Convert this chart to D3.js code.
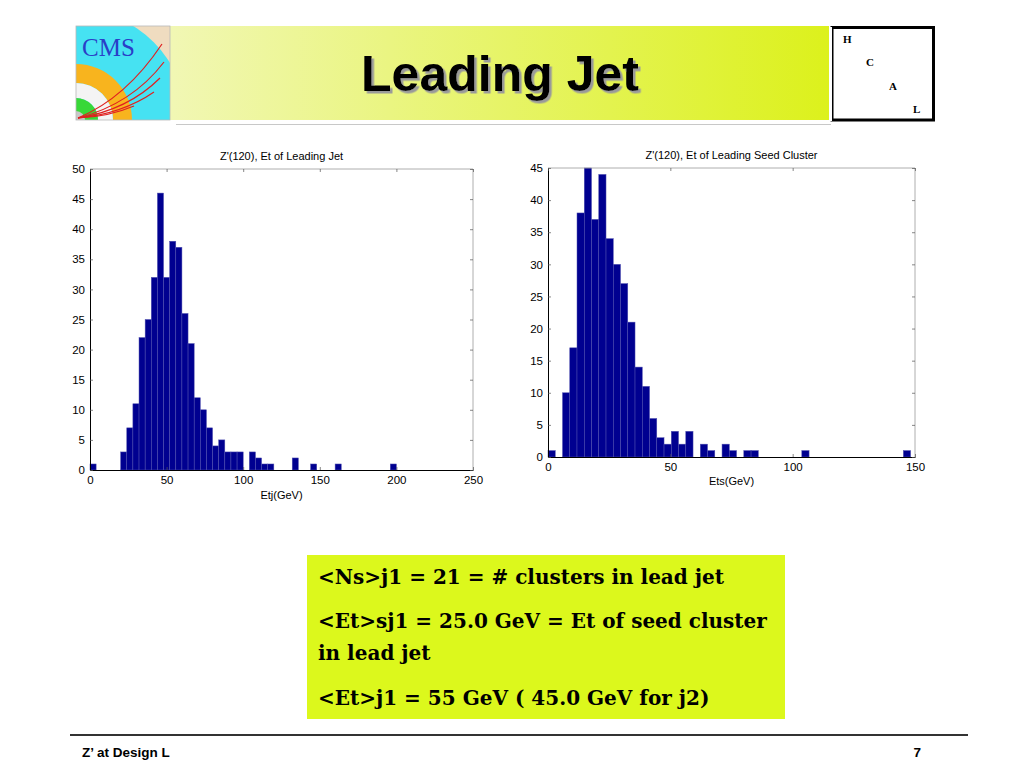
<!DOCTYPE html>
<html>
<head>
<meta charset="utf-8">
<script src="https://cdn.jsdelivr.net/npm/d3@7"></script>
<style>
  body { margin: 0; background: #fff; }
  text { font-family: "Liberation Sans", Arial, sans-serif; }
</style>
</head>
<body>
<svg id="slide" width="1024" height="768"></svg>
<script>
// histogram contents, 50 bins each
const jetRange = [0, 200];
const jetCounts = [1,0,0,0,0,3,7,11,22,25,32,46,32,38,37,26,21,12,10,7,
                   4,5,3,3,3,0,3,2,1,1,0,0,0,2,0,0,1,0,0,0,
                   1,0,0,0,0,0,0,0,0,1];
const seedRange = [0, 148.2];
const seedCounts = [1,0,10,17,38,45,37,44,34,30,27,21,14,11,6,3,2,4,2,4,
                    0,2,1,0,2,1,0,1,1,0,0,0,0,0,0,1,0,0,0,0,
                    0,0,0,0,0,0,0,0,0,1];
const jetXTicks = [0, 50, 100, 150, 200, 250];
const jetYTicks = [0, 5, 10, 15, 20, 25, 30, 35, 40, 45, 50];
const seedXTicks = [0, 50, 100, 150];
const seedYTicks = [0, 5, 10, 15, 20, 25, 30, 35, 40, 45];
const noteLines = [
    '<Ns>j1 = 21 = # clusters in lead jet',
    '<Et>sj1 = 25.0 GeV = Et of seed cluster',
    'in lead jet',
    '<Et>j1 = 55 GeV ( 45.0 GeV for j2)',
];

const svg = d3.select('#slide');

// ---- header ----
const defs = svg.append('defs');
const grad = defs.append('linearGradient').attr('id', 'banner');
grad.append('stop').attr('offset', '0%').attr('stop-color', '#f1f7b4');
grad.append('stop').attr('offset', '100%').attr('stop-color', '#dcf11c');
const shadow = defs.append('filter').attr('id', 'shadow')
    .attr('x', '-5%').attr('y', '-10%').attr('width', '115%').attr('height', '130%');
shadow.append('feDropShadow').attr('dx', 2.5).attr('dy', 2.5).attr('stdDeviation', 0.6)
    .attr('flood-color', '#9a9a9a').attr('flood-opacity', 1);

svg.append('line').attr('x1', 176).attr('x2', 831).attr('y1', 124.5).attr('y2', 124.5)
    .attr('stroke', '#c8c8c8').attr('stroke-width', 1);
svg.append('rect').attr('x', 170).attr('y', 26).attr('width', 659).attr('height', 94)
    .attr('fill', 'url(#banner)');

// CMS logo
const logo = svg.append('g').attr('transform', 'translate(76,26)');
logo.append('rect').attr('width', 94).attr('height', 94).attr('fill', '#efdcc0');
const clip = defs.append('clipPath').attr('id', 'logoclip');
clip.append('rect').attr('y', -94).attr('width', 94).attr('height', 94);
const rings = logo.append('g').attr('transform', 'translate(0,94)')
    .append('g').attr('clip-path', 'url(#logoclip)');
const arc = d3.arc().startAngle(0).endAngle(Math.PI / 2);
[[0, 110, '#46e2f2'], [37, 56, '#f8b41e'], [22, 37, '#f4f4f4'], [0, 22, '#38d838']]
    .forEach(([r0, r1, c]) => rings.append('path')
        .attr('d', arc.innerRadius(r0).outerRadius(r1)()).attr('fill', c));
rings.append('path').attr('d', arc.innerRadius(0).outerRadius(9)()).attr('fill', '#c8c8c8');
const tracks = [[[50, -22], [86, -76]], [[56, -16], [88, -58]], [[52, -10], [84, -42]],
                [[46, -6], [78, -28]], [[32, -3], [58, -14]]];
tracks.forEach(([c, e]) => {
    const p = d3.path();
    p.moveTo(2, -2);
    p.quadraticCurveTo(c[0], c[1], e[0], e[1]);
    rings.append('path').attr('d', p.toString()).attr('fill', 'none')
        .attr('stroke', '#e02020').attr('stroke-width', 1.2);
});
logo.append('text').attr('x', 6).attr('y', 30).text('CMS')
    .style('font-family', '"Liberation Serif", serif').style('font-size', '25px')
    .attr('fill', '#2a3ec8');
logo.append('rect').attr('width', 94).attr('height', 94).attr('fill', 'none')
    .attr('stroke', '#b8b8b8').attr('stroke-width', 0.8);

// title
svg.append('text').attr('x', 500).attr('y', 91).attr('text-anchor', 'middle')
    .text('Leading Jet').attr('fill', '#000').attr('filter', 'url(#shadow)')
    .style('font-size', '50px').style('font-weight', 'bold');

// HCAL box
svg.append('rect').attr('x', 832).attr('y', 27.5).attr('width', 101.5).attr('height', 92.5)
    .attr('fill', '#fff').attr('stroke', '#000').attr('stroke-width', 3);
svg.append('line').attr('x1', 831).attr('x2', 831).attr('y1', 27).attr('y2', 121)
    .attr('stroke', '#fff').attr('stroke-width', 2);
[['H', 843, 43], ['C', 866, 66], ['A', 889, 90], ['L', 913, 113]].forEach(([t, x, y]) =>
    svg.append('text').attr('x', x).attr('y', y).text(t)
        .style('font-family', '"Liberation Serif", serif').style('font-size', '11px')
        .style('font-weight', 'bold'));

// ---- histograms ----
function histogram(opt) {
    const { left, right, top, bottom, xMax, yMax, range, counts, xTicks, yTicks,
            title, xLabel, xLabelY } = opt;
    const x = d3.scaleLinear().domain([0, xMax]).range([left, right]);
    const y = d3.scaleLinear().domain([0, yMax]).range([bottom, top]);
    const g = svg.append('g');
    const w = (range[1] - range[0]) / counts.length;

    const bins = counts.map((c, i) => ({ x0: range[0] + i * w, x1: range[0] + (i + 1) * w, c }))
        .filter(b => b.c > 0);
    g.selectAll('rect.bin').data(bins).enter().append('rect').attr('class', 'bin')
        .attr('x', d => x(d.x0)).attr('width', d => x(d.x1) - x(d.x0))
        .attr('y', d => y(d.c)).attr('height', d => y(0) - y(d.c))
        .attr('fill', '#000090').attr('stroke', '#5050b0').attr('stroke-width', 0.5);

    // frame
    g.append('line').attr('x1', left).attr('x2', right).attr('y1', top).attr('y2', top)
        .attr('stroke', '#9a9a9a').attr('stroke-width', 0.8);
    g.append('line').attr('x1', right).attr('x2', right).attr('y1', top).attr('y2', bottom)
        .attr('stroke', '#9a9a9a').attr('stroke-width', 0.8);

    const axB = g.append('g').attr('transform', `translate(0,${bottom})`)
        .call(d3.axisBottom(x).tickValues(xTicks).tickSizeInner(-3).tickSizeOuter(0).tickPadding(6));
    const axL = g.append('g').attr('transform', `translate(${left},0)`)
        .call(d3.axisLeft(y).tickValues(yTicks).tickSizeInner(-3).tickSizeOuter(0).tickPadding(5));
    g.append('g').attr('transform', `translate(0,${top})`)
        .call(d3.axisTop(x).tickValues(xTicks).tickSizeInner(-3).tickSizeOuter(0).tickFormat(''))
        .call(a => a.select('.domain').remove());
    g.append('g').attr('transform', `translate(${right},0)`)
        .call(d3.axisRight(y).tickValues(yTicks).tickSizeInner(-3).tickSizeOuter(0).tickFormat(''))
        .call(a => a.select('.domain').remove());
    g.selectAll('.tick line').attr('stroke', '#555').attr('stroke-width', 0.7);
    [axB, axL].forEach(a => {
        a.select('.domain').attr('stroke', '#000').attr('stroke-width', 1);
        a.selectAll('text').style('font-size', '11.5px').attr('fill', '#000')
            .style('font-family', '"Liberation Sans", Arial, sans-serif');
    });

    g.append('text').attr('x', (left + right) / 2).attr('y', top - 9).attr('text-anchor', 'middle')
        .text(title).style('font-size', '11px');
    g.append('text').attr('x', (left + right) / 2).attr('y', xLabelY).attr('text-anchor', 'middle')
        .text(xLabel).style('font-size', '11px');
}

histogram({ left: 90, right: 473, top: 169, bottom: 470, xMax: 250, yMax: 50,
    range: jetRange, counts: jetCounts, xTicks: jetXTicks, yTicks: jetYTicks,
    title: "Z'(120),  Et of Leading Jet", xLabel: 'Etj(GeV)', xLabelY: 499 });
histogram({ left: 548, right: 915, top: 168, bottom: 457, xMax: 150, yMax: 45,
    range: seedRange, counts: seedCounts, xTicks: seedXTicks, yTicks: seedYTicks,
    title: "Z'(120),  Et of Leading Seed Cluster", xLabel: 'Ets(GeV)', xLabelY: 485 });

// ---- notes box ----
svg.append('rect').attr('x', 307).attr('y', 555).attr('width', 478).attr('height', 164)
    .attr('fill', '#dcf81c');
const noteY = [584, 628, 660, 705];
svg.selectAll('text.note').data(noteLines).enter().append('text').attr('class', 'note')
    .attr('x', 318).attr('y', (d, i) => noteY[i]).text(d => d)
    .style('font-family', '"DejaVu Serif", serif')
    .style('font-size', '20px').style('font-weight', 'bold');

// ---- footer ----
svg.append('line').attr('x1', 70).attr('x2', 968).attr('y1', 735).attr('y2', 735)
    .attr('stroke', '#333').attr('stroke-width', 2);
svg.append('text').attr('x', 82).attr('y', 757).text('Z\u2019 at Design L')
    .style('font-size', '13.5px').style('font-weight', 'bold');
svg.append('text').attr('x', 921).attr('y', 757).attr('text-anchor', 'end').text('7')
    .style('font-size', '13.5px').style('font-weight', 'bold');
</script>
</body>
</html>
